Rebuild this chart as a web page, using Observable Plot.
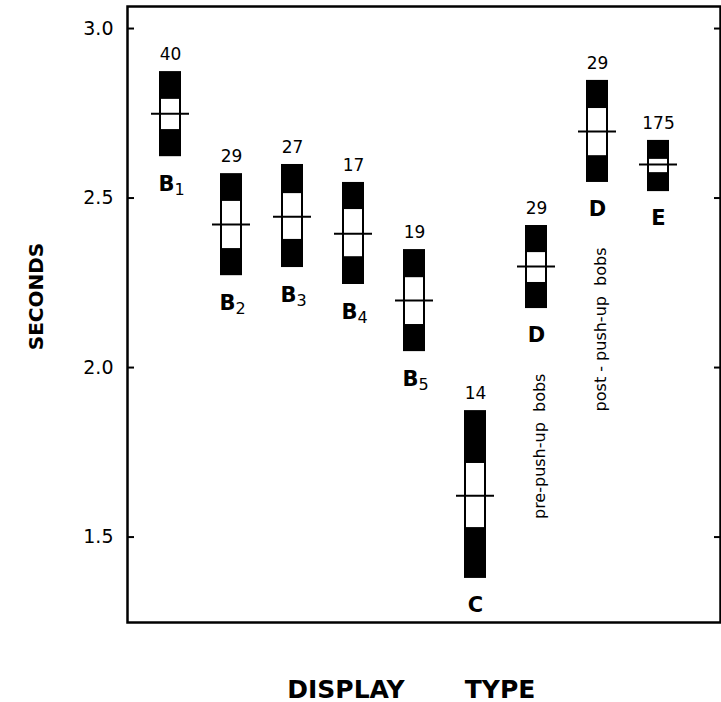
<!DOCTYPE html>
<html><head><meta charset="utf-8">
<script src="https://cdn.jsdelivr.net/npm/d3@7"></script>
<script src="https://cdn.jsdelivr.net/npm/@observablehq/plot@0.6"></script>
<style>
body{margin:0;background:#fff;}
svg text{white-space:pre;}
</style></head><body><div id="chart"></div>
<script>
const categories = ["B1","B2","B3","B4","B5","C","D pre","D post","E"];
const letters    = ["B","B","B","B","B","C","D","D","E"];
const subs       = ["1","2","3","4","5","","","",""];
const counts     = [40, 29, 27, 17, 19, 14, 29, 29, 175];
const means      = [2.749, 2.422, 2.445, 2.395, 2.198, 1.622, 2.298, 2.696, 2.599];
const innerHigh  = [2.794, 2.493, 2.516, 2.469, 2.268, 1.720, 2.342, 2.767, 2.617];
const innerLow   = [2.699, 2.348, 2.375, 2.324, 2.124, 1.525, 2.248, 2.622, 2.572];
const outerHigh  = [2.873, 2.572, 2.599, 2.546, 2.348, 1.873, 2.419, 2.847, 2.670];
const outerLow   = [2.622, 2.271, 2.295, 2.245, 2.047, 1.378, 2.174, 2.546, 2.519];
const notes      = ["","","","","","","pre-push-up  bobs","post - push-up  bobs",""];
const yTicks      = [1.5, 2.0, 2.5, 3.0];
const yTickLabels = ["1.5","2.0","2.5","3.0"];

const data = categories.map((c, i) => ({
  cat: c, letter: letters[i], sub: subs[i], n: counts[i], mean: means[i],
  innerHigh: innerHigh[i], innerLow: innerLow[i],
  outerHigh: outerHigh[i], outerLow: outerLow[i], note: notes[i]
}));

const font = "DejaVu Sans, sans-serif";
const chart = Plot.plot({
  width: 721, height: 702,
  marginTop: 6, marginBottom: 80, marginLeft: 127, marginRight: 1,
  style: {fontFamily: font, background: "white", color: "black"},
  x: {type: "band", domain: categories, range: [157, 671], paddingInner: 0.642, paddingOuter: 0, axis: null},
  y: {domain: [1.248, 3.065], axis: null},
  marks: [
    Plot.barY(data, {x: "cat", y1: "outerLow", y2: "outerHigh", fill: "black"}),
    Plot.barY(data, {x: "cat", y1: "innerLow", y2: "innerHigh", fill: "white", stroke: "black", strokeWidth: 2, insetLeft: 1, insetRight: 1}),
    Plot.tickY(data, {x: "cat", y: "mean", stroke: "black", strokeWidth: 2, insetLeft: -8, insetRight: -8}),
    Plot.text(data, {x: "cat", y: "outerHigh", text: d => String(d.n), dy: -17, fontSize: 17}),
    Plot.text(data.filter(d => d.sub), {x: "cat", y: "outerLow", text: "letter", dy: 28, dx: -4, fontSize: 21, fontWeight: "bold"}),
    Plot.text(data.filter(d => d.sub), {x: "cat", y: "outerLow", text: "sub", dy: 33, dx: 9, fontSize: 16}),
    Plot.text(data.filter(d => !d.sub), {x: "cat", y: "outerLow", text: "letter", dy: 27, fontSize: 21, fontWeight: "bold"}),
    Plot.text(data.filter(d => d.note), {x: "cat", y: "outerLow", text: "note", rotate: -90, textAnchor: "end", dy: 65, dx: 3, fontSize: 16, letterSpacing: 2}),
    Plot.axisY({ticks: yTicks, tickSize: 7, dx: 7, tickFormat: () => "", strokeWidth: 2, label: null}),
    Plot.axisY({anchor: "right", ticks: yTicks, tickSize: 7, dx: -7, tickFormat: () => "", strokeWidth: 2, label: null}),
    Plot.axisY({ticks: yTicks, tickSize: 0, tickPadding: 14, tickFormat: d => yTickLabels[yTicks.indexOf(d)], fontSize: 19, label: null}),
    Plot.frame({stroke: "black", strokeWidth: 2.5}),
    Plot.text(["SECONDS"], {text: d => d, frameAnchor: "left", textAnchor: "middle", lineAnchor: "middle", rotate: -90, dx: -91, dy: -18, fontSize: 20, fontWeight: "bold", letterSpacing: 1}),
    Plot.text(["DISPLAY"], {text: d => d, frameAnchor: "bottom", textAnchor: "middle", lineAnchor: "middle", dx: -78, dy: 67, fontSize: 25, fontWeight: "bold", letterSpacing: 2.3}),
    Plot.text(["TYPE"], {text: d => d, frameAnchor: "bottom", textAnchor: "middle", lineAnchor: "middle", dx: 76, dy: 67, fontSize: 25, fontWeight: "bold", letterSpacing: 2.3})
  ]
});
document.getElementById("chart").appendChild(chart);
</script></body></html>
